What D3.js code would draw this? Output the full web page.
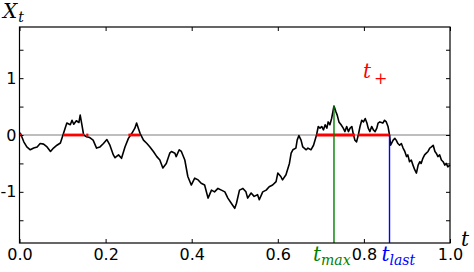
<!DOCTYPE html>
<html>
<head>
<meta charset="utf-8">
<script src="https://cdn.jsdelivr.net/npm/d3@7"></script>
<style>
  body { margin: 0; background: #fff; }
  .tick text { font-family: "DejaVu Sans", sans-serif; font-size: 16px; fill: #000; }
  .math { font-family: "DejaVu Serif", serif; font-style: italic; }
</style>
</head>
<body>
<script>

var tVals = [0, 0.002, 0.010, 0.017, 0.025, 0.033, 0.041, 0.048, 0.056, 0.064, 0.072, 0.079, 0.087, 0.095,
  0.101, 0.106, 0.110, 0.118, 0.122, 0.126, 0.132, 0.138, 0.141, 0.145, 0.149, 0.155, 0.161, 0.164, 0.171,
  0.179, 0.187, 0.195, 0.203, 0.210, 0.218, 0.222, 0.230, 0.237, 0.245, 0.253, 0.261, 0.268, 0.272, 0.276,
  0.280, 0.288, 0.296, 0.303, 0.311, 0.319, 0.326, 0.333, 0.341, 0.349, 0.353, 0.361, 0.364, 0.371, 0.376,
  0.384, 0.391, 0.399, 0.407, 0.415, 0.422, 0.430, 0.438, 0.446, 0.453, 0.461, 0.469, 0.477, 0.484, 0.492,
  0.500, 0.504, 0.511, 0.519, 0.526, 0.530, 0.538, 0.545, 0.553, 0.557, 0.565, 0.573, 0.580, 0.588, 0.596,
  0.600, 0.607, 0.611, 0.619, 0.627, 0.631, 0.635, 0.642, 0.645, 0.649, 0.654, 0.658, 0.666, 0.670, 0.677,
  0.683, 0.690, 0.694, 0.698, 0.702, 0.706, 0.710, 0.714, 0.717, 0.721, 0.725, 0.728, 0.7305, 0.735, 0.738,
  0.742, 0.747, 0.752, 0.756, 0.760, 0.764, 0.768, 0.772, 0.775, 0.779, 0.783, 0.787, 0.791, 0.795, 0.799,
  0.803, 0.807, 0.810, 0.814, 0.818, 0.822, 0.826, 0.830, 0.833, 0.837, 0.844, 0.848, 0.852, 0.856, 0.8595,
  0.862, 0.868, 0.872, 0.875, 0.879, 0.883, 0.887, 0.891, 0.895, 0.899, 0.902, 0.906, 0.910, 0.914, 0.918,
  0.922, 0.926, 0.930, 0.933, 0.937, 0.941, 0.945, 0.949, 0.953, 0.957, 0.961, 0.965, 0.968, 0.972, 0.976,
  0.980, 0.984, 0.988, 0.991, 0.995, 1.0];
var xVals = [0, 0.03, -0.12, -0.21, -0.26, -0.23, -0.21, -0.15, -0.16, -0.21, -0.29, -0.23, -0.18, -0.14,
  0, 0.12, 0.21, 0.18, 0.26, 0.19, 0.25, 0.22, 0.35, 0.18, 0, -0.03, -0.04, -0.05, -0.09,
  -0.23, -0.21, -0.15, -0.08, -0.18, -0.35, -0.40, -0.35, -0.41, -0.21, -0.06, 0.03, 0.12, 0.21, 0.12,
  0.03, -0.09, -0.15, -0.21, -0.29, -0.38, -0.44, -0.58, -0.50, -0.32, -0.29, -0.32, -0.38, -0.26, -0.29,
  -0.44, -0.73, -0.88, -0.76, -0.79, -0.85, -0.88, -1.11, -0.97, -1.00, -0.94, -0.97, -1.00, -1.11, -1.20,
  -1.29, -1.20, -0.97, -0.94, -1.00, -1.11, -1.02, -1.08, -1.05, -1.14, -1.00, -0.97, -0.91, -0.88, -0.82,
  -0.67, -0.73, -0.79, -0.70, -0.50, -0.32, -0.26, -0.23, -0.09, -0.01, -0.09, -0.21, -0.26, -0.23, -0.26,
  -0.18, 0, 0.15, 0.12, 0.15, 0.09, 0.18, 0.12, 0.23, 0.18, 0.29, 0.41, 0.51, 0.41, 0.35,
  0.23, 0.18, 0.12, 0.06, 0.15, 0.06, 0.12, 0.15, 0.03, -0.09, -0.12, 0, 0.15, 0.26, 0.23,
  0.29, 0.21, 0.12, 0.06, 0.15, 0.09, 0.06, 0.12, 0.21, 0.23, 0.21, 0.26, 0.23, 0.15, 0,
  -0.18, -0.09, -0.06, -0.09, -0.15, -0.18, -0.15, -0.23, -0.29, -0.38, -0.35, -0.47, -0.44, -0.53, -0.61,
  -0.67, -0.53, -0.47, -0.50, -0.41, -0.35, -0.32, -0.29, -0.23, -0.21, -0.18, -0.29, -0.32, -0.38, -0.35,
  -0.44, -0.47, -0.53, -0.50, -0.56, -0.53];

// intervals where the path is above zero
var posStarts = [0, 0.102, 0.155, 0.253, 0.690, 0.787];
var posEnds   = [0.004, 0.150, 0.160, 0.280, 0.779, 0.8595];

var tMax = 0.7305, xMax = 0.51;
var tLast = 0.8595;

var xTicks = [0, 0.2, 0.4, 0.6, 0.8, 1.0];
var yTicks = [-1.5, -1, -0.5, 0, 0.5, 1, 1.5];
var yLabeled = [-1, 0, 1];

var margin = {top: 27, right: 24, bottom: 29, left: 19.5};
var width = 474 - margin.left - margin.right,
    height = 272 - margin.top - margin.bottom;

var x = d3.scaleLinear().domain([0, 1]).range([0, width]);
var y = d3.scaleLinear().domain([-1.9, 1.9]).range([height, 0]);

var svg = d3.select("body").append("svg")
    .attr("width", 474)
    .attr("height", 272)
  .append("g")
    .attr("transform", "translate(" + margin.left + "," + margin.top + ")");

// zero line
svg.append("line")
    .attr("x1", 0).attr("x2", width)
    .attr("y1", y(0)).attr("y2", y(0))
    .attr("stroke", "#a8a8a8")
    .attr("stroke-width", 1.5);

// path
var pts = tVals.map(function(t, i) { return [t, xVals[i]]; });
var line = d3.line()
    .x(function(d) { return x(d[0]); })
    .y(function(d) { return y(d[1]); });
svg.append("path")
    .attr("d", line(pts))
    .attr("fill", "none")
    .attr("stroke", "#000")
    .attr("stroke-width", 1.6)
    .attr("stroke-linejoin", "round");

// positive set, drawn on the zero line
svg.selectAll(".pos")
    .data(posStarts)
  .enter().append("line")
    .attr("class", "pos")
    .attr("x1", function(d) { return x(d); })
    .attr("x2", function(d, i) { return x(posEnds[i]); })
    .attr("y1", y(0)).attr("y2", y(0))
    .attr("stroke", "#ff0000")
    .attr("stroke-width", 2.8);

// t_max and t_last markers
svg.append("line")
    .attr("x1", x(tMax)).attr("x2", x(tMax))
    .attr("y1", y(-1.9)).attr("y2", y(xMax))
    .attr("stroke", "#008000")
    .attr("stroke-width", 1.4);
svg.append("line")
    .attr("x1", x(tLast)).attr("x2", x(tLast))
    .attr("y1", y(-1.9)).attr("y2", y(0))
    .attr("stroke", "#0000ff")
    .attr("stroke-width", 1.4);

// axes, ticks pointing inward like matplotlib
var fmtX = d3.format(".1f");
svg.append("g")
    .attr("transform", "translate(0," + height + ")")
    .call(d3.axisBottom(x).tickValues(xTicks).tickSize(-4).tickPadding(6).tickFormat(fmtX));
svg.append("g")
    .call(d3.axisTop(x).tickValues(xTicks).tickSize(-4).tickFormat(""));
svg.append("g")
    .call(d3.axisLeft(y).tickValues(yTicks).tickSize(-4).tickPadding(3)
      .tickFormat(function(d) { return yLabeled.indexOf(d) >= 0 ? d3.format("d")(d).replace("\u2212", "-") : ""; }));
svg.append("g")
    .attr("transform", "translate(" + width + ",0)")
    .call(d3.axisRight(y).tickValues(yTicks).tickSize(-4).tickFormat(""));

svg.selectAll(".domain").remove();
svg.selectAll(".tick line").attr("stroke", "#000").attr("stroke-width", 1);

svg.append("rect")
    .attr("width", width)
    .attr("height", height)
    .attr("fill", "none")
    .attr("stroke", "#000")
    .attr("stroke-width", 1.2);

// labels
var root = d3.select("svg");
var xt = root.append("text").attr("class", "math").attr("x", 3).attr("y", 18).attr("font-size", 20);
xt.append("tspan").text("X");
xt.append("tspan").attr("font-size", 14).attr("dy", 4).attr("dx", 1).text("t");

root.append("text").attr("class", "math")
    .attr("x", 461).attr("y", 246).attr("font-size", 20).text("t");

var tp = root.append("text").attr("class", "math").attr("fill", "#ff0000")
    .attr("x", 363).attr("y", 78).attr("font-size", 20);
tp.append("tspan").text("t");
tp.append("tspan").attr("font-style", "normal").attr("font-size", 16).attr("dy", 6).attr("dx", 3).text("+");

var tm = root.append("text").attr("class", "math").attr("fill", "#008000")
    .attr("x", margin.left + x(tMax) - 21).attr("y", 261).attr("font-size", 20);
tm.append("tspan").text("t");
tm.append("tspan").attr("font-size", 14).attr("dy", 4).text("max");

var tl = root.append("text").attr("class", "math").attr("fill", "#0000ff")
    .attr("x", margin.left + x(tLast) - 8).attr("y", 261).attr("font-size", 20);
tl.append("tspan").text("t");
tl.append("tspan").attr("font-size", 14).attr("dy", 4).text("last");

</script>
</body>
</html>
